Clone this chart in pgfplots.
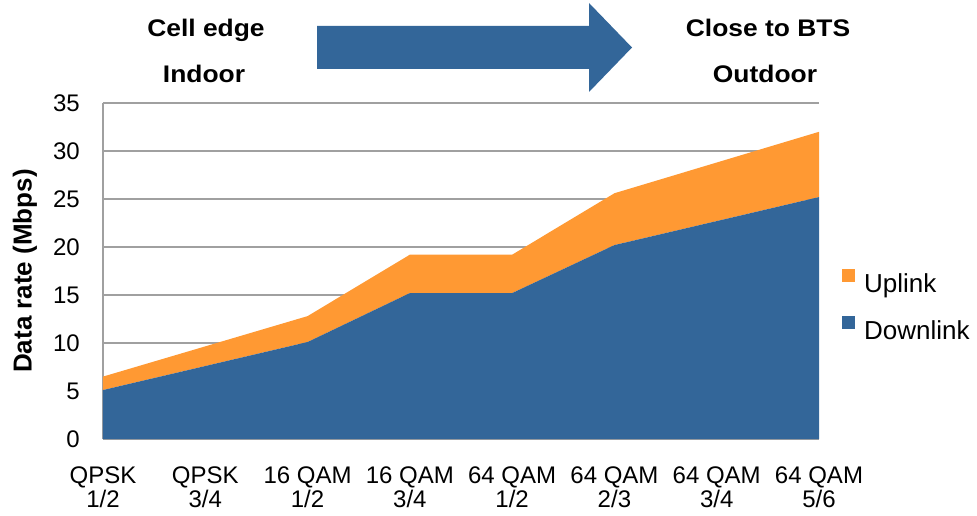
\documentclass[border=0pt]{standalone}
\usepackage{fontspec}
\setmainfont{Liberation Sans}
\usepackage{pgfplots}
\pgfplotsset{compat=1.18}
\definecolor{dlblue}{HTML}{336699}
\definecolor{ulorange}{HTML}{FF9933}
\definecolor{gridgray}{HTML}{A0A0A0}
\begin{document}
\begin{tikzpicture}
\begin{scope}[x=0.75pt,y=-0.75pt]
\useasboundingbox (0,0) rectangle (977,516);
\end{scope}
\begin{axis}[
  at={(103*0.75pt,-439*0.75pt)}, anchor=south west,
  scale only axis, width=537pt, height=252pt,
  xmin=0, xmax=7, ymin=0, ymax=35,
  stack plots=y,
  axis x line*=bottom, axis y line*=left,
  axis line style={gridgray, line width=1pt, -},
  ymajorgrids, grid style={gridgray, line width=1pt},
  major tick length=0pt,
  ytick={0,5,...,35},
  xtick={0,...,7},
  xticklabels={{QPSK\\1/2},{QPSK\\3/4},{16 QAM\\1/2},{16 QAM\\3/4},{64 QAM\\1/2},{64 QAM\\2/3},{64 QAM\\3/4},{64 QAM\\5/6}},
  xticklabel style={align=center, inner sep=0pt, font=\fontsize{18}{18}\selectfont, yshift=-20.5pt},
  yticklabel style={anchor=east, inner sep=0pt, font=\fontsize{18}{18}\selectfont, xshift=-17.25pt},
  /pgf/number format/assume math mode=true,
  legend style={draw=none, fill=none, at={(1.032,0.392)}, anchor=west, inner sep=0pt,
    font=\fontsize{19.5}{20}\selectfont, row sep=13.5pt,
    nodes={inner sep=0pt, text height=14pt, text depth=4pt},
    /tikz/every odd column/.append style={column sep=6.75pt}},
  legend cell align=left,
  reverse legend,
  legend image code/.code={\fill[#1] (0pt,3pt) rectangle (9.75pt,12.75pt);},
  clip=false,
]
\addplot[fill=dlblue, draw=none] coordinates {(0,5.1) (1,7.6) (2,10.1) (3,15.2) (4,15.2) (5,20.2) (6,22.7) (7,25.2)} \closedcycle;
\addlegendentry{Downlink}
\addplot[fill=ulorange, draw=none] coordinates {(0,1.4) (1,2.05) (2,2.7) (3,4.0) (4,4.0) (5,5.4) (6,6.1) (7,6.8)} \closedcycle;
\addlegendentry{Uplink}
\end{axis}
\begin{scope}[x=0.75pt,y=-0.75pt]
\fill[dlblue] (317,26) -- (589,26) -- (589,3) -- (632,47.5) -- (589,92) -- (589,69) -- (317,69) -- cycle;
\node[anchor=base, inner sep=0pt] at (206,37) {\scalebox{1.1}[1]{\fontsize{18}{18}\selectfont\bfseries Cell edge}};
\node[anchor=base, inner sep=0pt] at (204,83) {\scalebox{1.1}[1]{\fontsize{18}{18}\selectfont\bfseries Indoor}};
\node[anchor=base, inner sep=0pt] at (768,37) {\scalebox{1.1}[1]{\fontsize{18}{18}\selectfont\bfseries Close to BTS}};
\node[anchor=base, inner sep=0pt] at (765,83) {\scalebox{1.1}[1]{\fontsize{18}{18}\selectfont\bfseries Outdoor}};
\node[rotate=90, inner sep=0pt] at (25,271) {\fontsize{19.5}{19.5}\selectfont\bfseries Data rate (Mbps)};
\end{scope}
\end{tikzpicture}
\end{document}
